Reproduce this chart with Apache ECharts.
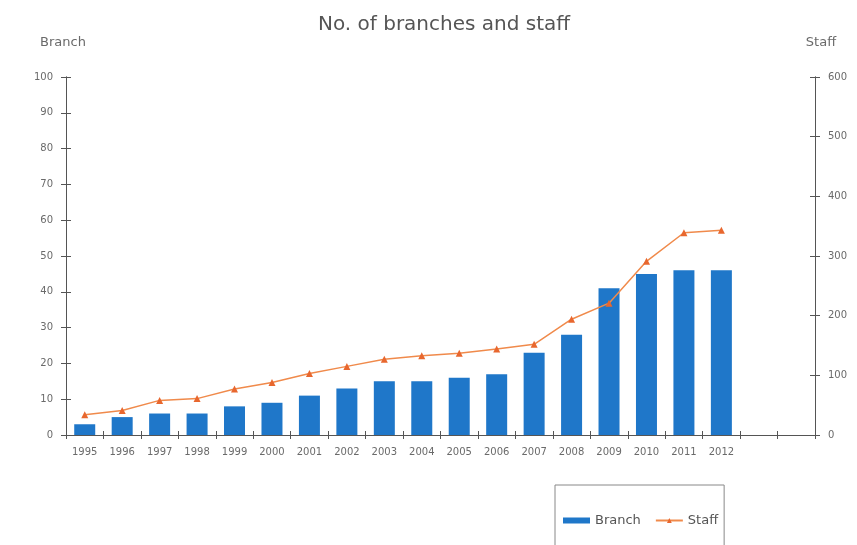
<!DOCTYPE html>
<html>
<head>
<meta charset="utf-8">
<script src="https://cdn.jsdelivr.net/npm/echarts@6/dist/echarts.min.js"></script>
<style>
  html, body { margin: 0; padding: 0; background: #fff; }
  #chart { width: 857px; height: 545px; }
</style>
</head>
<body>
<div id="chart"></div>
<script>
// Years shown on the category axis; two trailing slots are left blank
const years = ['1995', '1996', '1997', '1998', '1999', '2000', '2001', '2002', '2003',
               '2004', '2005', '2006', '2007', '2008', '2009', '2010', '2011', '2012', '', ''];
// Number of branches per year (left axis)
const branches = [3, 5, 6, 6, 8, 9, 11, 13, 15, 15, 16, 17, 23, 28, 41, 45, 46, 46];
// Number of staff per year (right axis)
const staff = [34, 41, 58, 61, 77, 88, 103, 115, 127, 133, 137, 144, 152, 194, 221, 291, 339, 343];

const FONT = 'DejaVu Sans, Verdana, sans-serif';
const AXIS = '#555';
const LABEL = '#6a6a6a';

const chart = echarts.init(document.getElementById('chart'), null, { renderer: 'canvas' });

const xBase = {
  type: 'category',
  data: years,
  boundaryGap: true,
  axisLine: { lineStyle: { color: AXIS, width: 1 } },
  splitLine: { show: false }
};

const yLeftBase = {
  type: 'value', position: 'left', min: 0, max: 100, interval: 10,
  axisLine: { show: true, lineStyle: { color: AXIS } },
  splitLine: { show: false }
};
const yRightBase = {
  type: 'value', position: 'right', min: 0, max: 600, interval: 100,
  axisLine: { show: true, lineStyle: { color: AXIS } },
  splitLine: { show: false }
};

chart.setOption({
  animation: false,
  backgroundColor: '#fff',
  title: {
    text: 'No. of branches and staff',
    left: 313,
    top: 10,
    textStyle: { fontFamily: FONT, fontSize: 20, fontWeight: 'normal', color: '#555' }
  },
  grid: { left: 66, right: 42, top: 77, bottom: 110 },
  legend: {
    orient: 'horizontal',
    left: 555,
    top: 485,
    padding: [29, 6, 40, 8],
    borderColor: '#888',
    borderWidth: 1,
    itemGap: 14,
    itemWidth: 27,
    itemHeight: 6,
    textStyle: { fontFamily: FONT, fontSize: 13, color: '#555' },
    data: [
      { name: 'Branch', icon: 'rect' },
      { name: 'Staff' }
    ]
  },
  xAxis: [
    Object.assign({}, xBase, {
      axisTick: { show: true, inside: false, length: 4, lineStyle: { color: AXIS } },
      axisLabel: { fontFamily: FONT, fontSize: 10, color: LABEL, margin: 12, interval: 0 }
    }),
    Object.assign({}, xBase, {
      gridIndex: 0,
      position: 'bottom',
      axisTick: { show: true, inside: true, length: 4, lineStyle: { color: AXIS } },
      axisLabel: { show: false }
    })
  ],
  yAxis: [
    Object.assign({}, yLeftBase, {
      name: 'Branch',
      nameLocation: 'end',
      nameGap: 28,
      nameTextStyle: { fontFamily: FONT, fontSize: 13, color: LABEL, align: 'center', padding: [0, 6, 0, 0] },
      axisTick: { show: true, inside: false, length: 5, lineStyle: { color: AXIS } },
      axisLabel: { fontFamily: FONT, fontSize: 10, color: LABEL, margin: 13 }
    }),
    Object.assign({}, yRightBase, {
      name: 'Staff',
      nameLocation: 'end',
      nameGap: 28,
      nameTextStyle: { fontFamily: FONT, fontSize: 13, color: LABEL, align: 'center', padding: [0, 0, 0, 12] },
      axisTick: { show: true, inside: false, length: 5, lineStyle: { color: AXIS } },
      axisLabel: { fontFamily: FONT, fontSize: 10, color: LABEL, margin: 13 }
    }),
    Object.assign({}, yLeftBase, {
      axisTick: { show: true, inside: true, length: 5, lineStyle: { color: AXIS } },
      axisLabel: { show: false }
    }),
    Object.assign({}, yRightBase, {
      axisTick: { show: true, inside: true, length: 5, lineStyle: { color: AXIS } },
      axisLabel: { show: false }
    })
  ],
  series: [
    {
      name: 'Branch',
      type: 'bar',
      xAxisIndex: 0,
      yAxisIndex: 0,
      data: branches,
      barWidth: 21,
      itemStyle: { color: '#1f77c9' }
    },
    {
      name: 'Staff',
      type: 'line',
      xAxisIndex: 0,
      yAxisIndex: 1,
      data: staff,
      symbol: 'triangle',
      symbolSize: 7,
      lineStyle: { color: '#f08a4b', width: 1.5 },
      itemStyle: { color: '#e8672e' }
    }
  ]
});
</script>
</body>
</html>
